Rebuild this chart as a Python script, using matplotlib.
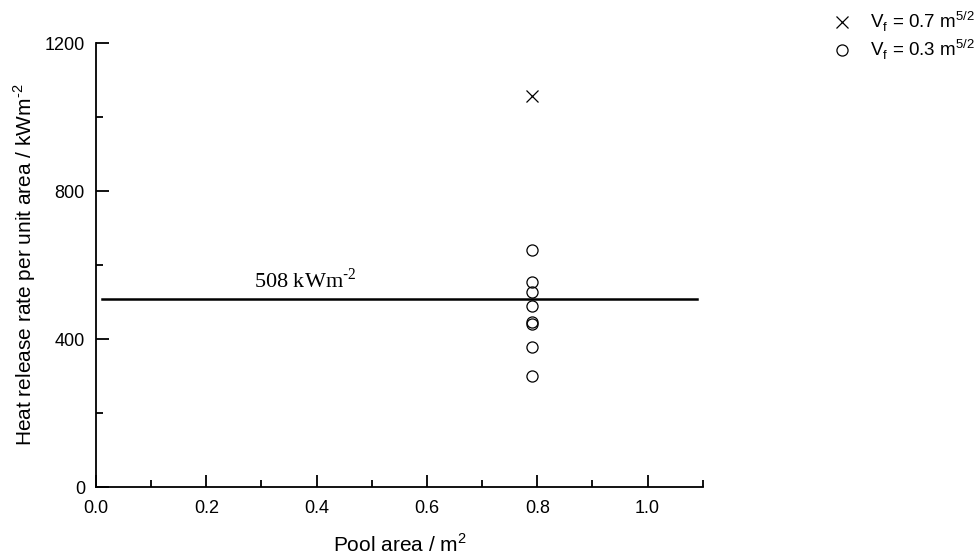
import matplotlib
matplotlib.use('Agg')
import matplotlib.pyplot as plt
from matplotlib.ticker import MultipleLocator

plt.rcParams['font.family'] = ['Liberation Sans', 'DejaVu Sans']
plt.rcParams['mathtext.fontset'] = 'custom'
plt.rcParams['mathtext.rm'] = 'Liberation Sans'

# measured data at a single pool size
area_07 = [0.79]
hrr_07 = [1057]
area_03 = [0.79] * 8
hrr_03 = [640, 555, 528, 489, 446, 440, 378, 300]

mean_hrr = 508
mean_span = [0.01, 1.09]

fig = plt.figure(figsize=(9.76, 5.59), dpi=100)
ax = fig.add_axes([0.0984, 0.1288, 0.6216, 0.7942])

ax.plot(area_07, hrr_07, linestyle='none', marker='x', ms=8, mew=0.9,
        color='black', label=r'V$_{\mathregular{f}}$ = 0.7 m$^{\mathregular{5/2}}$')
ax.plot(area_03, hrr_03, linestyle='none', marker='o', ms=8, mew=0.9,
        mfc='none', mec='black', label=r'V$_{\mathregular{f}}$ = 0.3 m$^{\mathregular{5/2}}$')
ax.plot(mean_span, [mean_hrr, mean_hrr], color='black', lw=1.8)
ax.text(0.38, mean_hrr + 16, r'%d kWm$^{\mathregular{\text{-}2}}$' % mean_hrr,
        family='Liberation Serif', fontsize=16, ha='center', va='bottom')

ax.set_xlim(0, 1.1)
ax.set_ylim(0, 1200)
ax.xaxis.set_major_locator(MultipleLocator(0.2))
ax.xaxis.set_minor_locator(MultipleLocator(0.1))
ax.yaxis.set_major_locator(MultipleLocator(400))
ax.yaxis.set_minor_locator(MultipleLocator(200))
ax.xaxis.set_major_formatter(lambda v, p: '%.1f' % v)

ax.spines['top'].set_visible(False)
ax.spines['right'].set_visible(False)
for s in ('left', 'bottom'):
    ax.spines[s].set_linewidth(1.3)
ax.tick_params(which='both', direction='in', width=1.3, labelsize=13)
ax.tick_params(which='major', length=9)
ax.tick_params(axis='x', which='major', pad=9)
ax.tick_params(axis='y', which='major', pad=8)
ax.tick_params(which='minor', length=5)

ax.set_xlabel(r'Pool area / m$^{\mathregular{2}}$', fontsize=15, labelpad=12)
ax.set_ylabel(r'Heat release rate per unit area / kWm$^{\mathregular{\text{-}2}}$', fontsize=15, labelpad=5)

ax.legend(loc='upper left', bbox_to_anchor=(0.853, 0.982), bbox_transform=fig.transFigure,
          frameon=False, fontsize=13.5, handlelength=1.0, handletextpad=1.0,
          labelspacing=0.2, borderpad=0, borderaxespad=0)

fig.savefig('out.png', dpi=100)
